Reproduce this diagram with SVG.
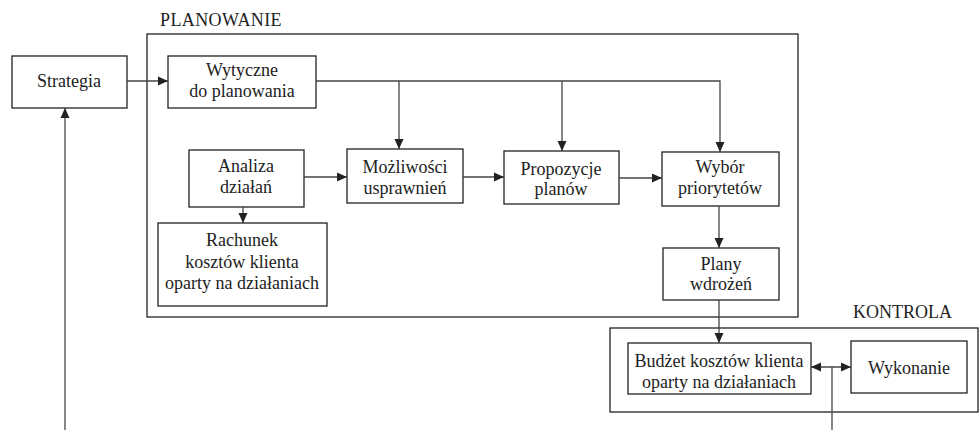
<svg xmlns="http://www.w3.org/2000/svg" width="979" height="430" viewBox="0 0 979 430">
<style>
.b{fill:#fff;stroke:#222;stroke-width:1.3}
.c{fill:none;stroke:#444;stroke-width:1.3}
text{font-family:'Liberation Serif','Times New Roman',serif;font-size:18px;fill:#222;text-anchor:middle}
.l{text-anchor:start}
</style>
<defs>
<marker id="a" viewBox="0 0 10 10" refX="10" refY="5" markerWidth="10" markerHeight="10" markerUnits="userSpaceOnUse" orient="auto-start-reverse">
<path d="M0,0.5 L10,5 L0,9.5 Z" fill="#222"/>
</marker>
</defs>
<g id="planowanie">
<rect class="b" x="147" y="34" width="651" height="283"/>
<text class="l" x="160" y="26" letter-spacing="0.4">PLANOWANIE</text>
</g>
<g id="kontrola">
<rect class="b" x="610" y="328" width="368" height="84"/>
<text class="l" x="853" y="318">KONTROLA</text>
</g>
<g id="strategia"><rect class="b" x="12" y="56" width="115" height="52"/><text x="69" y="87">Strategia</text></g>
<g id="wytyczne"><rect class="b" x="168" y="56" width="148" height="52"/><text x="242" y="76">Wytyczne</text><text x="242" y="97">do planowania</text></g>
<g id="analiza"><rect class="b" x="189" y="150" width="115" height="57"/><text x="246" y="172">Analiza</text><text x="246" y="193">działań</text></g>
<g id="mozliwosci"><rect class="b" x="347" y="149" width="116" height="54"/><text x="405" y="173">Możliwości</text><text x="405" y="194">usprawnień</text></g>
<g id="propozycje"><rect class="b" x="504" y="151" width="115" height="53"/><text x="561" y="175">Propozycje</text><text x="561" y="195">planów</text></g>
<g id="wybor"><rect class="b" x="662" y="152" width="117" height="54"/><text x="720" y="173">Wybór</text><text x="720" y="194">priorytetów</text></g>
<g id="rachunek"><rect class="b" x="158" y="223" width="169" height="83"/><text x="242" y="246">Rachunek</text><text x="242" y="268">kosztów klienta</text><text x="242" y="289">oparty na działaniach</text></g>
<g id="plany"><rect class="b" x="663" y="248" width="116" height="52"/><text x="721" y="270">Plany</text><text x="721" y="290">wdrożeń</text></g>
<g id="budzet"><rect class="b" x="628" y="343" width="183" height="51"/><text x="719" y="367">Budżet kosztów klienta</text><text x="719" y="388">oparty na działaniach</text></g>
<g id="wykonanie"><rect class="b" x="851" y="341" width="116" height="52"/><text x="909" y="374">Wykonanie</text></g>
<g id="connectors">
<path class="c" d="M127,81 H168" marker-end="url(#a)"/>
<path class="c" d="M316,81 H720 V152" marker-end="url(#a)"/>
<path class="c" d="M399,81 V149" marker-end="url(#a)"/>
<path class="c" d="M562,81 V151" marker-end="url(#a)"/>
<path class="c" d="M304,177 H347" marker-end="url(#a)"/>
<path class="c" d="M463,177 H504" marker-end="url(#a)"/>
<path class="c" d="M619,178 H662" marker-end="url(#a)"/>
<path class="c" d="M243,207 V223" marker-end="url(#a)"/>
<path class="c" d="M719,206 V248" marker-end="url(#a)"/>
<path class="c" d="M719,300 V343" marker-end="url(#a)"/>
<path class="c" d="M811,367 H851" marker-start="url(#a)" marker-end="url(#a)"/>
<path class="c" d="M832,367 V430"/>
<path class="c" d="M65,430 V108" marker-end="url(#a)"/>
</g>
</svg>
